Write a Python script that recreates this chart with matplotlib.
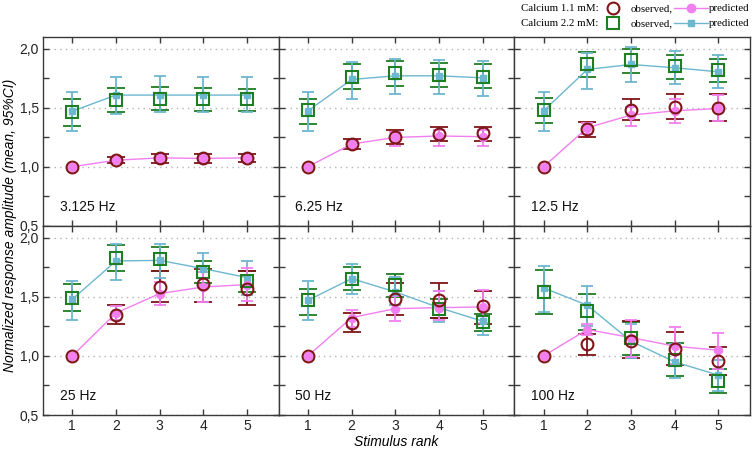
import numpy as np
import matplotlib
matplotlib.use("Agg")
import matplotlib.pyplot as plt
from matplotlib.lines import Line2D
from matplotlib.ticker import FixedLocator, FuncFormatter

plt.rcParams['font.family'] = ['Liberation Sans', 'DejaVu Sans']

panels = ["3.125 Hz", "6.25 Hz", "12.5 Hz", "25 Hz", "50 Hz", "100 Hz"]
ranks = [1, 2, 3, 4, 5]

obs11_mean = [
    [1.00, 1.056, 1.076, 1.072, 1.075],
    [1.00, 1.192, 1.254, 1.276, 1.282],
    [1.00, 1.315, 1.479, 1.507, 1.501],
    [1.00, 1.349, 1.583, 1.606, 1.569],
    [1.00, 1.282, 1.479, 1.476, 1.420],
    [1.00, 1.099, 1.127, 1.062, 0.958],
]
obs11_lo = [
    [1.00, 1.030, 1.034, 1.035, 1.040],
    [1.00, 1.146, 1.192, 1.217, 1.217],
    [1.00, 1.248, 1.394, 1.400, 1.389],
    [1.00, 1.268, 1.456, 1.456, 1.434],
    [1.00, 1.203, 1.344, 1.324, 1.273],
    [1.00, 1.006, 0.986, 0.921, 0.837],
]
obs11_hi = [
    [1.00, 1.085, 1.107, 1.105, 1.105],
    [1.00, 1.234, 1.310, 1.335, 1.338],
    [1.00, 1.375, 1.569, 1.611, 1.611],
    [1.00, 1.428, 1.715, 1.738, 1.715],
    [1.00, 1.363, 1.617, 1.620, 1.550],
    [1.00, 1.189, 1.293, 1.203, 1.076],
]
pred11_mean = [
    [1.00, 1.055, 1.075, 1.070, 1.075],
    [1.00, 1.192, 1.248, 1.260, 1.254],
    [1.00, 1.330, 1.437, 1.473, 1.493],
    [1.00, 1.363, 1.527, 1.583, 1.603],
    [1.00, 1.324, 1.400, 1.408, 1.414],
    [1.00, 1.223, 1.155, 1.082, 1.048],
]
pred11_lo = [
    [1.00, 1.045, 1.065, 1.060, 1.065],
    [1.00, 1.163, 1.177, 1.177, 1.177],
    [1.00, 1.280, 1.346, 1.372, 1.389],
    [1.00, 1.307, 1.428, 1.456, 1.462],
    [1.00, 1.245, 1.296, 1.301, 1.279],
    [1.00, 1.175, 0.990, 0.930, 0.893],
]
pred11_hi = [
    [1.00, 1.065, 1.085, 1.080, 1.085],
    [1.00, 1.217, 1.296, 1.310, 1.310],
    [1.00, 1.366, 1.507, 1.572, 1.606],
    [1.00, 1.420, 1.625, 1.710, 1.744],
    [1.00, 1.390, 1.504, 1.550, 1.555],
    [1.00, 1.268, 1.301, 1.245, 1.194],
]
obs22_mean = [
    [1.465, 1.563, 1.577, 1.572, 1.569],
    [1.479, 1.760, 1.794, 1.780, 1.760],
    [1.479, 1.865, 1.901, 1.851, 1.817],
    [1.490, 1.828, 1.823, 1.710, 1.631],
    [1.470, 1.654, 1.603, 1.400, 1.287],
    [1.541, 1.377, 1.155, 0.969, 0.789],
]
obs22_lo = [
    [1.346, 1.465, 1.479, 1.470, 1.470],
    [1.360, 1.654, 1.685, 1.676, 1.662],
    [1.366, 1.755, 1.794, 1.746, 1.713],
    [1.380, 1.718, 1.718, 1.617, 1.541],
    [1.349, 1.560, 1.499, 1.324, 1.208],
    [1.358, 1.217, 1.006, 0.828, 0.682],
]
obs22_hi = [
    [1.569, 1.662, 1.676, 1.670, 1.660],
    [1.577, 1.865, 1.893, 1.880, 1.865],
    [1.583, 1.972, 2.000, 1.949, 1.915],
    [1.611, 1.935, 1.921, 1.803, 1.715],
    [1.569, 1.752, 1.696, 1.484, 1.352],
    [1.724, 1.521, 1.287, 1.110, 0.893],
]
pred22_mean = [
    [1.470, 1.606, 1.606, 1.606, 1.606],
    [1.473, 1.738, 1.769, 1.769, 1.752],
    [1.473, 1.823, 1.865, 1.837, 1.803],
    [1.479, 1.803, 1.808, 1.738, 1.662],
    [1.470, 1.654, 1.541, 1.408, 1.293],
    [1.575, 1.428, 1.124, 0.949, 0.837],
]
pred22_lo = [
    [1.304, 1.450, 1.460, 1.460, 1.460],
    [1.304, 1.575, 1.614, 1.611, 1.597],
    [1.304, 1.656, 1.713, 1.696, 1.668],
    [1.301, 1.645, 1.659, 1.603, 1.513],
    [1.307, 1.527, 1.428, 1.287, 1.175],
    [1.372, 1.251, 0.986, 0.817, 0.704],
]
pred22_hi = [
    [1.634, 1.760, 1.770, 1.760, 1.760],
    [1.634, 1.887, 1.913, 1.901, 1.893],
    [1.634, 1.966, 2.014, 1.980, 1.944],
    [1.634, 1.949, 1.949, 1.873, 1.800],
    [1.634, 1.780, 1.668, 1.550, 1.408],
    [1.760, 1.589, 1.268, 1.099, 0.969],
]

legend_rows = ["Calcium 1.1 mM:", "Calcium 2.2 mM:"]

RED = "#7f1518"
GREEN = "#1f7d22"
PINK = "#f27ff0"
BLUE = "#6db7cf"
SPINE = "#3a3a3a"

fig = plt.figure(figsize=(7.52, 4.49), dpi=100)
gs = fig.add_gridspec(2, 3, left=0.0572, right=0.9973, bottom=0.0757,
                      top=0.9183, hspace=0, wspace=0)


def ebar(ax, mean, lo, hi, color, cap, z):
    x = np.array(ranks, dtype=float)
    m = np.array(mean); l = np.array(lo); h = np.array(hi)
    sel = (h - l) > 1e-9
    ax.errorbar(x[sel], m[sel], yerr=[m[sel] - l[sel], h[sel] - m[sel]],
                fmt='none', ecolor=color, elinewidth=1.3, capsize=cap,
                capthick=1.3, zorder=z)


fmt = FuncFormatter(lambda v, p: f"{v:.1f}".replace('.', ','))

for i, name in enumerate(panels):
    r, c = divmod(i, 3)
    ax = fig.add_subplot(gs[r, c])
    ax.set_xlim(0.33, 5.72)
    ax.set_ylim(0.5, 2.1)
    ax.yaxis.set_major_locator(FixedLocator([0.5, 1.0, 1.5, 2.0]))
    ax.yaxis.set_minor_locator(FixedLocator([0.75, 1.25, 1.75]))
    ax.xaxis.set_major_locator(FixedLocator(ranks))
    ax.yaxis.set_major_formatter(fmt)
    ax.yaxis.grid(True, which='major', linestyle=(0, (1, 3)),
                  color='#b5b5b5', lw=1.0, zorder=0)
    ax.set_axisbelow(True)
    for s in ax.spines.values():
        s.set_color(SPINE)
        s.set_linewidth(1.0)
    ax.tick_params(which='both', direction='in', top=True, right=True,
                   length=4, width=1.0, color=SPINE, labelsize=10,
                   labelcolor='#222222', pad=3)
    ax.tick_params(labelleft=(c == 0), labelbottom=(r == 1))

    # observed error bars
    ebar(ax, obs22_mean[i], obs22_lo[i], obs22_hi[i], GREEN, 6.5, 2)
    ebar(ax, obs11_mean[i], obs11_lo[i], obs11_hi[i], RED, 6.5, 2)
    # predicted
    ebar(ax, pred22_mean[i], pred22_lo[i], pred22_hi[i], BLUE, 4, 3)
    ebar(ax, pred11_mean[i], pred11_lo[i], pred11_hi[i], PINK, 4, 3)
    ax.plot(ranks, pred22_mean[i], color=BLUE, lw=1.0, marker='s', ms=5,
            mec=BLUE, mfc=BLUE, zorder=4)
    ax.plot(ranks, pred11_mean[i], color=PINK, lw=1.0, marker='o', ms=5.8,
            mec=PINK, mfc=PINK, zorder=4)
    # observed markers
    ax.plot(ranks, obs22_mean[i], ls='none', marker='s', ms=8.5, mfc='none',
            mec=GREEN, mew=1.5, zorder=5)
    ax.plot(ranks, obs11_mean[i], ls='none', marker='o', ms=8.5, mfc='none',
            mec=RED, mew=1.5, zorder=5)

    ax.text(0.07, 0.10, name, transform=ax.transAxes, fontsize=10,
            ha='left', va='center', color='#111111')
    if r == 1 and c == 1:
        ax.set_xlabel("Stimulus rank", fontsize=10, style='italic', labelpad=1)

fig.text(0.013, (0.0757 + 0.9183) / 2,
         "Normalized response amplitude (mean, 95%CI)", rotation=90,
         ha='center', va='center', fontsize=10, style='italic')

# legend (two single-column legends so rows align exactly)
h_o11 = Line2D([], [], ls='none', marker='o', ms=8.5, mfc='none', mec=RED, mew=1.5)
h_o22 = Line2D([], [], ls='none', marker='s', ms=8.5, mfc='none', mec=GREEN, mew=1.5)
h_p11 = Line2D([], [], color=PINK, lw=1.0, marker='o', ms=6, mfc=PINK, mec=PINK)
h_p22 = Line2D([], [], color=BLUE, lw=1.0, marker='s', ms=5, mfc=BLUE, mec=BLUE)
lfs = 7.8
hl = 3.14
hp = 0.05
top_y = 1.005
lkw = dict(frameon=False, borderpad=0.05, handlelength=hl, handletextpad=hp,
           labelspacing=0.5, loc='upper right',
           prop={'family': 'Liberation Serif', 'size': lfs})
leg_p = fig.legend([h_p11, h_p22], ["predicted", "predicted"],
                   bbox_to_anchor=(1.004, top_y), **lkw)
fig.canvas.draw()
W, H = fig.bbox.width, fig.bbox.height
bbp = leg_p.get_window_extent()
leg_o = fig.legend([h_o11, h_o22], ["observed,", "observed,"],
                   bbox_to_anchor=((bbp.x0 + 5) / W, top_y), **lkw)
fig.canvas.draw()
texts = leg_o.get_texts()
fs_px = lfs * fig.dpi / 72.0
for k, lab in enumerate(legend_rows):
    t = texts[k]
    bb = t.get_window_extent()
    xt, yt = t.get_transform().transform(t.get_position())
    circ_c = bb.x0 - (hp + hl / 2) * fs_px
    x_right = circ_c - 14
    fig.text(x_right / W, yt / H, lab, ha='right', va='baseline',
             family='Liberation Serif', fontsize=lfs)

fig.savefig("out.png", dpi=100)
